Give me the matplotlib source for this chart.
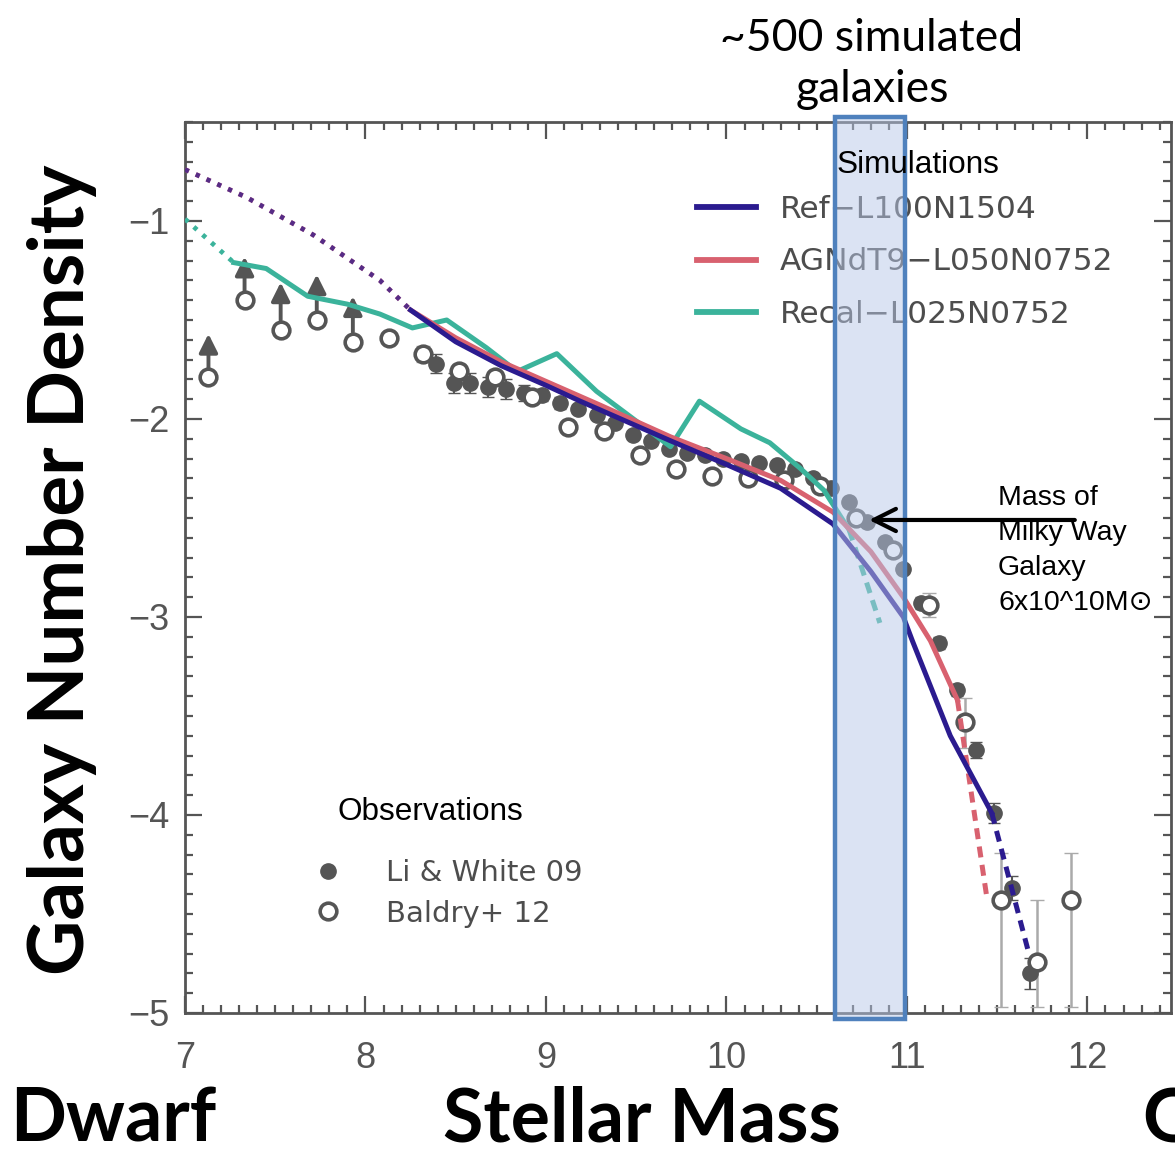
import matplotlib
matplotlib.use("Agg")
import matplotlib.pyplot as plt
from matplotlib.patches import Rectangle

# ---------------- data ----------------
# EAGLE simulations: log stellar mass vs log number density
ref_x = [8.25, 8.50, 8.75, 9.00, 9.19, 9.69, 10.00, 10.30, 10.59, 10.80, 10.98, 11.03, 11.24, 11.47]
ref_y = [-1.45, -1.61, -1.73, -1.83, -1.91, -2.11, -2.23, -2.35, -2.53, -2.77, -3.00, -3.12, -3.60, -3.99]
ref_lo_x = [7.00, 7.34, 7.71, 8.08, 8.25]
ref_lo_y = [-0.74, -0.88, -1.07, -1.30, -1.45]
ref_hi_x = [11.47, 11.67]
ref_hi_y = [-3.99, -4.68]

agn_x = [8.25, 8.50, 8.75, 9.00, 9.30, 9.69, 10.00, 10.30, 10.59, 10.80, 10.98, 11.13, 11.28]
agn_y = [-1.45, -1.59, -1.71, -1.81, -1.93, -2.09, -2.20, -2.31, -2.47, -2.67, -2.90, -3.12, -3.42]
agn_lo_x = [7.00, 7.34, 7.71, 8.08, 8.25]
agn_lo_y = [-0.74, -0.88, -1.07, -1.30, -1.45]
agn_hi_x = [11.28, 11.44]
agn_hi_y = [-3.42, -4.40]

recal_x = [7.27, 7.45, 7.68, 7.90, 8.08, 8.26, 8.45, 8.67, 8.84, 9.06, 9.28, 9.69,
           9.85, 10.08, 10.24, 10.41, 10.54, 10.68]
recal_y = [-1.21, -1.24, -1.38, -1.42, -1.47, -1.54, -1.50, -1.64, -1.76, -1.67, -1.86, -2.14,
           -1.91, -2.05, -2.12, -2.25, -2.36, -2.56]
recal_lo_x = [7.00, 7.27]
recal_lo_y = [-0.99, -1.21]
recal_hi_x = [10.68, 10.85]
recal_hi_y = [-2.56, -3.03]

# Observations: Li & White 2009
lw09_x = [8.39, 8.49, 8.58, 8.68, 8.78, 8.88, 8.98, 9.08, 9.18, 9.28, 9.38, 9.48,
          9.58, 9.68, 9.78, 9.88, 9.98, 10.08, 10.18, 10.28, 10.38, 10.48, 10.58,
          10.68, 10.78, 10.88, 10.98, 11.08, 11.18, 11.28, 11.38, 11.48, 11.58, 11.68]
lw09_y = [-1.72, -1.82, -1.82, -1.84, -1.85, -1.87, -1.88, -1.92, -1.95, -1.98, -2.02, -2.08,
          -2.11, -2.15, -2.17, -2.18, -2.20, -2.21, -2.22, -2.23, -2.25, -2.30, -2.35,
          -2.42, -2.52, -2.62, -2.76, -2.93, -3.13, -3.37, -3.67, -3.99, -4.37, -4.80]
lw09_err = [0.05, 0.05, 0.05, 0.05, 0.05, 0.04, 0.03, 0.03, 0.02, 0.02, 0.02, 0.02,
            0.02, 0.02, 0.02, 0.02, 0.02, 0.02, 0.02, 0.02, 0.02, 0.02, 0.02,
            0.02, 0.02, 0.02, 0.02, 0.03, 0.03, 0.03, 0.04, 0.05, 0.06, 0.08]

# Observations: Baldry et al. 2012
bal_x = [7.13, 7.33, 7.53, 7.73, 7.93, 8.13, 8.32, 8.52, 8.72, 8.92, 9.12, 9.32, 9.52,
         9.72, 9.92, 10.12, 10.32, 10.52, 10.72, 10.92, 11.12, 11.32, 11.52, 11.72, 11.91]
bal_y = [-1.79, -1.40, -1.55, -1.50, -1.61, -1.59, -1.67, -1.76, -1.79, -1.89, -2.04, -2.06, -2.18,
         -2.25, -2.29, -2.30, -2.31, -2.34, -2.50, -2.66, -2.94, -3.53, -4.43, -4.74, -4.43]
bal_err_lo = [0, 0, 0, 0, 0, 0, 0.04, 0.04, 0.03, 0.03, 0.02, 0.02, 0.02,
              0.02, 0.02, 0.02, 0.02, 0.02, 0.03, 0.03, 0.06, 0.13, 0.54, 0.23, 0.54]
bal_err_hi = [0, 0, 0, 0, 0, 0, 0.04, 0.04, 0.03, 0.03, 0.02, 0.02, 0.02,
              0.02, 0.02, 0.02, 0.02, 0.02, 0.03, 0.03, 0.06, 0.12, 0.24, 0.31, 0.24]
# lower limits at the low-mass end (arrow tips)
bal_lim_x = [7.13, 7.33, 7.53, 7.73, 7.93]
bal_lim_from = [-1.79, -1.40, -1.55, -1.50, -1.61]
bal_lim_to = [-1.57, -1.18, -1.31, -1.27, -1.38]

# Milky Way mass range and arrow
band_x = (10.60, 10.99)
mw_arrow_y = -2.51
mw_arrow_x = (11.93, 10.79)

x_ticks = [7, 8, 9, 10, 11, 12]
y_ticks = [-1, -2, -3, -4, -5]

# ---------------- style ----------------
C_REF = "#2b1b8f"
C_AGN = "#d8616f"
C_RECAL = "#3bb39b"
C_OBS = "#555555"
C_BAR = "#aaaaaa"
C_LEGTXT = "#4d4d4d"

W, H = 1175, 1157
fig = plt.figure(figsize=(W / 100, H / 100), dpi=100)
ax = fig.add_axes([185 / W, 144 / H, 986 / W, 891 / H])
ax.set_xlim(7, 12.463)
ax.set_ylim(-5, -0.5)

LW = 3.6
DOTS = (0, (0.9, 1.6))
DASH = (0, (2.2, 1.5))

# extrapolated parts
ax.plot(agn_lo_x, agn_lo_y, color=C_AGN, lw=3.4, ls=DOTS, zorder=3)
ax.plot(ref_lo_x, ref_lo_y, color=C_REF, lw=3.4, ls=DOTS, zorder=3, alpha=0.75)
ax.plot(recal_lo_x, recal_lo_y, color=C_RECAL, lw=3.4, ls=DOTS, zorder=3)
ax.plot(agn_hi_x, agn_hi_y, color=C_AGN, lw=LW, ls=DASH, zorder=3)
ax.plot(ref_hi_x, ref_hi_y, color=C_REF, lw=LW, ls=DASH, zorder=3)
ax.plot(recal_hi_x, recal_hi_y, color=C_RECAL, lw=LW, ls=DASH, zorder=3)

# resolved parts
l_ref, = ax.plot(ref_x, ref_y, color=C_REF, lw=LW, zorder=4, label="Ref\u2212L100N1504")
l_agn, = ax.plot(agn_x, agn_y, color=C_AGN, lw=LW, zorder=3.5, label="AGNdT9\u2212L050N0752")
l_rec, = ax.plot(recal_x, recal_y, color=C_RECAL, lw=LW, zorder=3.2, label="Recal\u2212L025N0752")

# observations
ax.errorbar(lw09_x, lw09_y, yerr=lw09_err, fmt="none", ecolor=C_OBS, elinewidth=1.5,
            capsize=4, zorder=2)
p_lw, = ax.plot(lw09_x, lw09_y, "o", color=C_OBS, ms=11, zorder=2.5, label="Li & White 09")
ax.errorbar(bal_x, bal_y, yerr=[bal_err_lo, bal_err_hi], fmt="none", ecolor=C_BAR,
            elinewidth=1.8, capsize=5, zorder=2)
p_bal, = ax.plot(bal_x, bal_y, "o", mfc="white", mec=C_OBS, mew=2.6, ms=12, zorder=2.6,
                 label="Baldry+ 12")
for x0, y0, y1 in zip(bal_lim_x, bal_lim_from, bal_lim_to):
    ax.annotate("", xy=(x0, y1), xytext=(x0, y0),
                arrowprops=dict(arrowstyle="-|>", color=C_OBS, lw=2.8,
                                mutation_scale=28, shrinkA=7, shrinkB=0),
                zorder=2.4)

# axes styling
for s in ax.spines.values():
    s.set_color("#555555")
    s.set_linewidth(2.0)
ax.set_xticks(x_ticks)
ax.set_yticks(y_ticks)
ax.set_xticks([v / 10 for v in range(70, 125)], minor=True)
ax.set_yticks([-v / 10 for v in range(5, 51)], minor=True)
ax.tick_params(which="both", direction="in", top=True, right=True, color="#555555",
               width=1.6)
ax.tick_params(which="major", length=12)
ax.tick_params(which="minor", length=6)
ax.tick_params(axis="x", which="major", pad=20)
ax.tick_params(axis="y", which="major", pad=11)
ax.set_yticklabels([f"\u2212{abs(v)}" for v in y_ticks])
for lab in ax.get_xticklabels() + ax.get_yticklabels():
    lab.set_fontfamily("Liberation Sans")
    lab.set_fontsize(26)
    lab.set_color("#555555")

# legends
leg1 = ax.legend(handles=[l_ref, l_agn, l_rec], loc="upper left",
                 bbox_to_anchor=(697 / W, 1 - 195 / H), bbox_transform=fig.transFigure,
                 frameon=False, borderpad=0, borderaxespad=0, fontsize=22.5,
                 handlelength=1.9, handletextpad=0.75, labelspacing=0.75)
for t in leg1.get_texts():
    t.set_color(C_LEGTXT)
for h in leg1.legend_handles:
    h.set_linewidth(4.2)
ax.add_artist(leg1)

leg2 = ax.legend(handles=[p_lw, p_bal], loc="upper left",
                 bbox_to_anchor=(313 / W, 1 - 859 / H), bbox_transform=fig.transFigure,
                 frameon=False, borderpad=0, borderaxespad=0, fontsize=21,
                 handlelength=1.0, handletextpad=1.5, labelspacing=0.43)
for t in leg2.get_texts():
    t.set_color(C_LEGTXT)

fig.text(918 / W, 1 - 165 / H, "Simulations", family="Liberation Sans", fontsize=22.7,
         ha="center", va="center", zorder=5)
fig.text(430 / W, 1 - 812 / H, "Observations", family="Liberation Sans", fontsize=22.7,
         ha="center", va="center")

# highlighted Milky-Way mass range
band = Rectangle((band_x[0], -5.03), band_x[1] - band_x[0], 4.555, facecolor="#b8c8e8",
                 alpha=0.5, edgecolor="none", clip_on=False, zorder=6)
ax.add_patch(band)
frame = Rectangle((band_x[0], -5.03), band_x[1] - band_x[0], 4.555, facecolor="none",
                  edgecolor="#4f81bd", lw=3.2, clip_on=False, zorder=6.1)
ax.add_patch(frame)

ax.annotate("", xy=(mw_arrow_x[1], mw_arrow_y), xytext=(mw_arrow_x[0], mw_arrow_y),
            arrowprops=dict(arrowstyle="->", color="black", lw=3.0, mutation_scale=40,
                            shrinkA=0, shrinkB=0),
            annotation_clip=False, zorder=7)

fig.text(998 / W, 1 - 485 / H, "Mass of\nMilky Way\nGalaxy\n6x10^10M\u2299",
         family=["Liberation Sans", "DejaVu Sans"], fontsize=20.5, va="top", ha="left",
         linespacing=1.45, zorder=8)

fig.text(872 / W, 1 - 64 / H, "~500 simulated\ngalaxies", family="Lato", fontsize=32,
         ha="center", va="center", linespacing=1.3)

fig.text(62 / W, 1 - 570 / H, "Galaxy Number Density", family="Lato", weight="bold",
         fontsize=55, rotation=90, ha="center", va="center")
fig.text(642 / W, 1 - 1141 / H, "Stellar Mass", family="Lato", weight="bold",
         fontsize=53, ha="center", va="baseline")
fig.text(10 / W, 1 - 1141 / H, "Dwarf", family="Lato", weight="bold",
         fontsize=53, ha="left", va="baseline")
fig.text(1142 / W, 1 - 1141 / H, "Giant", family="Lato", weight="bold",
         fontsize=53, ha="left", va="baseline")

fig.savefig("out.png", dpi=100)
